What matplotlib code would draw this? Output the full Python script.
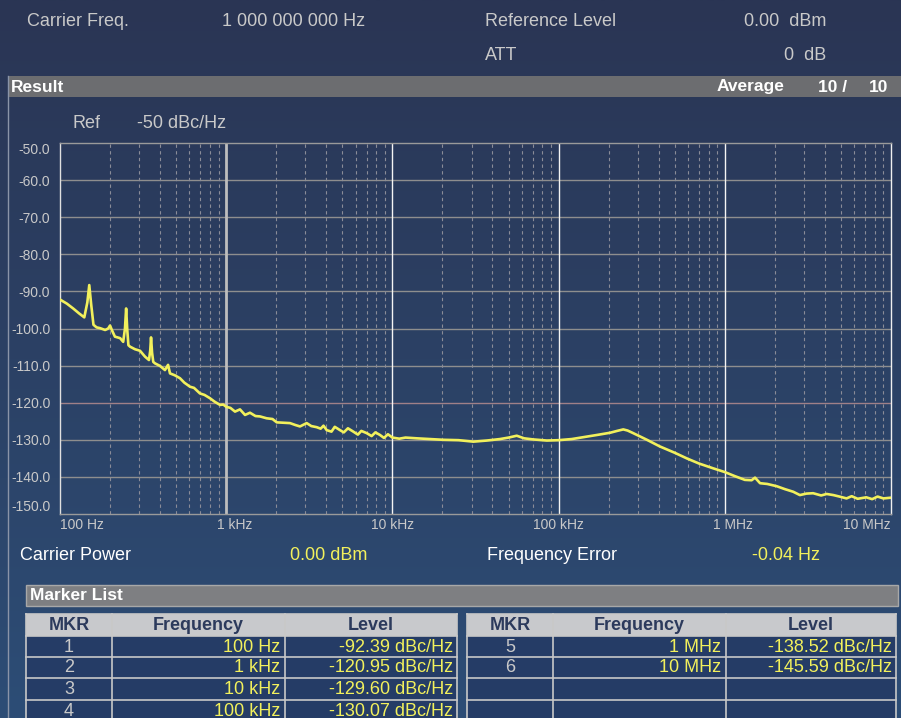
import matplotlib
matplotlib.use("Agg")
import matplotlib.pyplot as plt
import matplotlib.transforms as mtransforms
from matplotlib.patches import Rectangle
import numpy as np

plt.rcParams['font.family'] = ['Liberation Sans', 'DejaVu Sans']

# phase noise trace (offset frequency, dBc/Hz)
freq_hz = [100, 110, 120, 130, 140, 146, 150, 154, 159, 166, 174, 187, 195,
           200, 206, 214, 230, 240, 246, 250, 254, 258, 264, 283, 303, 325,
           343, 349, 353, 358, 364, 373, 400, 428, 447, 459, 490, 527, 560,
           606, 640, 695, 740, 799, 850, 918, 960, 1000, 1060, 1130, 1210,
           1298, 1390, 1500, 1597, 1750, 1900, 2014, 2200, 2420, 2600, 2780,
           3050, 3250, 3505, 3700, 3850, 4025, 4300, 4500, 4840, 5100, 5400,
           5820, 6200, 6500, 7000, 7500, 7900, 8420, 8900, 9400, 10000,
           11000, 12000, 14000, 17000, 20240, 25000, 30700, 37000, 44400,
           50000, 56000, 62000, 70400, 85000, 100000, 120000, 141000, 170000,
           204000, 225000, 245000, 260000, 281000, 340000, 407000, 500000,
           590000, 700000, 853000, 1000000, 1150000, 1320000, 1450000,
           1520000, 1630000, 1800000, 2050000, 2300000, 2580000, 2830000,
           3100000, 3400000, 3800000, 4100000, 4500000, 5000000, 5400000,
           5800000, 6300000, 7100000, 7700000, 8300000, 9000000, 10000000]
level_db = [-92.2, -93.3, -94.6, -95.9, -97.0, -93.0, -88.3, -93.5, -99.0,
            -99.7, -99.9, -100.4, -100.0, -99.2, -100.6, -102.2, -102.6,
            -103.6, -100.0, -94.6, -100.5, -104.5, -104.9, -105.6, -106.0,
            -107.6, -108.5, -106.0, -102.4, -106.5, -109.0, -109.4, -110.1,
            -111.2, -109.8, -112.1, -112.6, -113.4, -114.6, -115.7, -116.0,
            -117.5, -117.9, -118.8, -119.7, -120.6, -120.5, -121.1, -121.4,
            -122.4, -121.8, -123.3, -122.7, -123.6, -123.7, -124.2, -124.4,
            -125.3, -125.4, -125.5, -126.0, -126.4, -125.5, -126.3, -126.6,
            -127.0, -126.2, -127.4, -127.8, -126.5, -127.4, -128.0, -126.9,
            -127.8, -128.6, -127.6, -128.2, -129.0, -128.0, -128.7, -129.5,
            -128.5, -129.4, -129.7, -129.4, -129.6, -129.8, -130.0, -130.1,
            -130.5, -130.2, -129.8, -129.4, -128.9, -129.6, -129.9, -130.2,
            -130.1, -129.8, -129.3, -128.7, -128.1, -127.6, -127.2, -127.5,
            -128.2, -130.0, -131.8, -133.5, -135.0, -136.4, -137.7, -138.7,
            -139.8, -140.8, -140.9, -140.2, -141.7, -141.9, -142.5, -143.3,
            -144.0, -144.9, -144.5, -144.4, -145.0, -144.6, -144.9, -145.4,
            -145.8, -145.2, -145.9, -145.5, -146.0, -145.3, -145.8, -145.6]

y_ticks = [-50, -60, -70, -80, -90, -100, -110, -120, -130, -140, -150]
x_ticks = [1e2, 1e3, 1e4, 1e5, 1e6, 1e7]
x_labels = ['100 Hz', '1 kHz', '10 kHz', '100 kHz', '1 MHz', '10 MHz']

header_left = [('Carrier Freq.', '1 000 000 000 Hz')]
header_right = [('Reference Level', '0.00  dBm'), ('ATT', '0  dB')]

mkr_left = ['1', '2', '3', '4']
freq_left = ['100 Hz', '1 kHz', '10 kHz', '100 kHz']
lvl_left = ['-92.39 dBc/Hz', '-120.95 dBc/Hz', '-129.60 dBc/Hz', '-130.07 dBc/Hz']
mkr_right = ['5', '6', '', '']
freq_right = ['1 MHz', '10 MHz', '', '']
lvl_right = ['-138.52 dBc/Hz', '-145.59 dBc/Hz', '', '']

W, H = 901, 718
YELLOW = '#f2f05c'
LGRAY = '#c9c9c9'
NAVY_TXT = '#2c3a5c'
FS = 13
FSB = 12.5

fig = plt.figure(figsize=(W / 100, H / 100), dpi=100)

# background in pixel coordinates
bg = fig.add_axes([0, 0, 1, 1])
bg.set_xlim(0, W)
bg.set_ylim(H, 0)
bg.axis('off')
grad = np.linspace(0, 1, 256)[:, None]
top_c = np.array([42, 53, 84]) / 255
bot_c = np.array([45, 77, 118]) / 255
img = top_c[None, None, :] * (1 - grad[..., None]) + bot_c[None, None, :] * grad[..., None]
bg.imshow(img, extent=[0, W, H, 0], aspect='auto', zorder=0)

# header
for name, val in header_left:
    bg.text(27, 21.5, name, color=LGRAY, fontsize=FS, va='center')
    bg.text(222, 21.5, val, color=LGRAY, fontsize=FS, va='center')
for i, (name, val) in enumerate(header_right):
    yy = 21.5 + 34 * i
    bg.text(485, yy, name, color=LGRAY, fontsize=FS, va='center')
    bg.text(826, yy, val, color=LGRAY, fontsize=FS, va='center', ha='right')

# result bar and panel border
bg.add_patch(Rectangle((8, 76), W - 8, 21, facecolor='#6c6d70', edgecolor='none', zorder=2))
bg.plot([8, 8], [76, H], color='#8a94a8', lw=1, zorder=2)
bg.text(11, 87, 'Result', color='white', fontsize=FSB, fontweight='bold', va='center', zorder=3)
bg.text(717, 87, 'Average', color='white', fontsize=FSB, fontweight='bold', va='center', zorder=3)
bg.text(818, 87, '10 /', color='white', fontsize=FSB, fontweight='bold', va='center', zorder=3)
bg.text(888, 87, '10', color='white', fontsize=FSB, fontweight='bold', va='center', ha='right', zorder=3)

bg.text(72, 123.5, 'Ref', color=LGRAY, fontsize=FS, va='center')
bg.text(137, 123.5, '-50 dBc/Hz', color=LGRAY, fontsize=FS, va='center')

# trace axes
ax = fig.add_axes([60 / W, 1 - 514 / H, 831 / W, 371 / H])
ax.patch.set_alpha(0)
ax.set_xscale('log')
ax.set_xlim(1e2, 1e7)
ax.set_ylim(-150, -50)

for y in y_ticks[1:-1]:
    c = '#a08088' if y == -120 else '#8e8e8e'
    ax.axhline(y, color=c, lw=1, zorder=1)
for dec in [1e2, 1e3, 1e4, 1e5, 1e6]:
    for m in range(2, 10):
        ax.axvline(dec * m, color='#8a8c98', lw=0.8, ls=(0, (3, 3)), zorder=1)
ax.axvline(1e3, color='#bdbdbd', lw=2, zorder=1)
for xv in [1e4, 1e5, 1e6]:
    ax.axvline(xv, color='#f4f4f4', lw=1, zorder=1)

ax.plot(freq_hz, level_db, color=YELLOW, lw=1.9, zorder=3)

for side, c in [('left', '#e0e0e0'), ('right', '#f0f0f0'), ('top', '#9a9a9a'), ('bottom', '#9a9a9a')]:
    ax.spines[side].set_color(c)
    ax.spines[side].set_linewidth(1)

ax.set_yticks(y_ticks)
ax.set_yticklabels(['%.1f' % v for v in y_ticks])
ax.tick_params(axis='y', length=0, pad=7, labelsize=10, labelcolor=LGRAY)
ylabs = ax.get_yticklabels()
ylabs[0].set_va('top')
ylabs[-1].set_va('bottom')

ax.set_xticks(x_ticks)
ax.set_xticklabels(x_labels)
ax.minorticks_off()
ax.tick_params(axis='x', length=0, pad=3, labelsize=10, labelcolor=LGRAY)
xlabs = ax.get_xticklabels()
xlabs[0].set_ha('left')
xlabs[-1].set_ha('right')
for i in (1, 4):
    xlabs[i].set_transform(xlabs[i].get_transform() +
                           mtransforms.ScaledTranslation(8 / 100, 0, fig.dpi_scale_trans))

# status line
bg.text(20, 555.5, 'Carrier Power', color='white', fontsize=FS, va='center')
bg.text(290, 555.5, '0.00 dBm', color=YELLOW, fontsize=FS, va='center')
bg.text(487, 555.5, 'Frequency Error', color='white', fontsize=FS, va='center')
bg.text(820, 555.5, '-0.04 Hz', color=YELLOW, fontsize=FS, va='center', ha='right')

# marker list bar
bg.add_patch(Rectangle((26, 584.5), 872, 21, facecolor='#7e7f82', edgecolor='#a8a8a8', lw=1, zorder=2))
bg.text(30, 595, 'Marker List', color='white', fontsize=FSB, fontweight='bold', va='center', zorder=3)

# marker tables
row_edges = [614, 636, 657, 678, 700, 721]


def draw_table(cols, mkr, freq, lvl):
    x0, x1, x2, x3 = cols
    bg.add_patch(Rectangle((x0, row_edges[0]), x3 - x0, row_edges[1] - row_edges[0],
                           facecolor='#c8c9cc', edgecolor='none', zorder=2))
    bg.add_patch(Rectangle((x0, row_edges[1]), x3 - x0, H - row_edges[1],
                           facecolor='#253c66', edgecolor='none', zorder=2))
    for yy in row_edges[:-1]:
        bg.plot([x0, x3], [yy, yy], color='#c8c8c8', lw=1.2, zorder=3)
    for xx in cols:
        bg.plot([xx, xx], [row_edges[0], H], color='#c8c8c8', lw=1.2, zorder=3)
    yh = (row_edges[0] + row_edges[1]) / 2 + 1
    for txt, a, b in [('MKR', x0, x1), ('Frequency', x1, x2), ('Level', x2, x3)]:
        bg.text((a + b) / 2, yh, txt, color=NAVY_TXT, fontsize=FS, fontweight='bold',
                ha='center', va='center', zorder=4)
    for r in range(len(mkr)):
        yc = (row_edges[r + 1] + row_edges[r + 2]) / 2 + 0.5
        bg.text((x0 + x1) / 2, yc, mkr[r], color=LGRAY, fontsize=FS, ha='center', va='center', zorder=4)
        bg.text(x2 - 5, yc, freq[r], color=YELLOW, fontsize=FS, ha='right', va='center', zorder=4)
        bg.text(x3 - 4, yc, lvl[r], color=YELLOW, fontsize=FS, ha='right', va='center', zorder=4)


draw_table([26, 112, 285, 457], mkr_left, freq_left, lvl_left)
draw_table([467, 553, 726, 896], mkr_right, freq_right, lvl_right)

fig.savefig('out.png', dpi=100)
